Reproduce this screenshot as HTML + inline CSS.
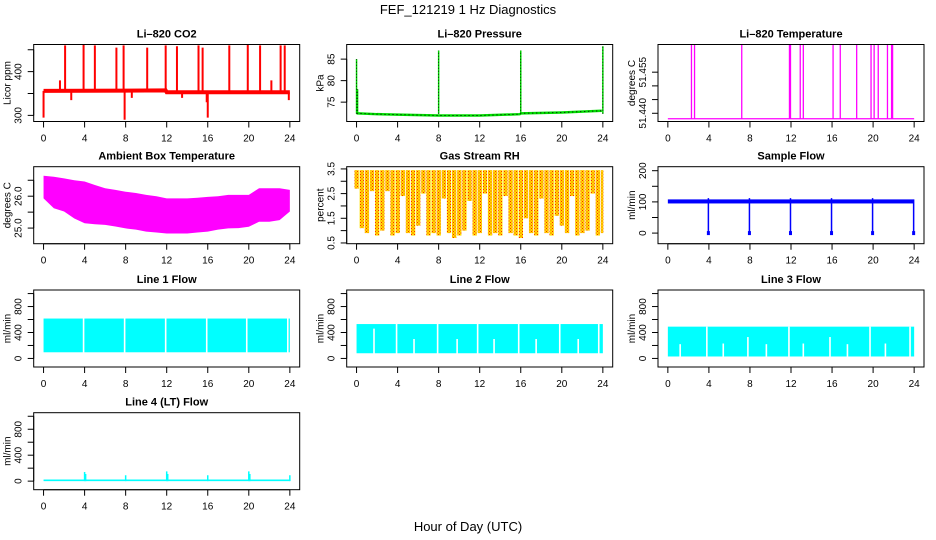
<!DOCTYPE html>
<html><head><meta charset="utf-8"><style>
body{margin:0;background:#fff;}
svg{display:block;font-family:"Liberation Sans",Arial,sans-serif;}
</style></head><body>
<svg id="chart" width="936" height="540" viewBox="0 0 936 540" xmlns="http://www.w3.org/2000/svg">
<defs>
<pattern id="rhpat" width="3" height="3" patternUnits="userSpaceOnUse"><rect width="3" height="3" fill="#ffe000"/><rect width="1" height="1" fill="#ff2000"/><rect x="1.5" y="1.5" width="1" height="1" fill="#ff2000"/></pattern>
</defs>
<text x="468" y="14" font-size="13" text-anchor="middle">FEF_121219  1 Hz Diagnostics</text>
<text x="468" y="531" font-size="13" text-anchor="middle">Hour of Day (UTC)</text>
</svg>
<script>
const xTicks=[0,4,8,12,16,20,24];
// CO2
const co2BaseHours=[0,11.9,12,24];
const co2BaseVals=[356,357,353,353];
const co2SpikeHours=[0,1.6,2.1,2.7,3.9,5.0,7.1,7.8,7.9,8.6,10.1,11.9,13.0,13.5,15.1,15.5,15.9,16.0,18.1,19.9,21.1,22.2,23.1,23.5,23.9];
const co2SpikeVals=[295,380,460,335,462,460,455,460,290,340,455,460,458,340,460,455,330,295,460,462,460,380,460,460,335];
// Pressure
const presBaseHours=[0,0.15,2,4,8,8.05,12,15.9,16.05,20,23.9];
const presBaseVals=[72.4,72.4,72.2,72.1,71.9,71.9,71.9,72.2,72.4,72.6,73];
const presSpikeHours=[0,0.1,8,16,24];
const presSpikeVals=[85,78,87,87,88];
// Li-820 temp
const tempBase=51.438;
const tempSpikeHours=[2.3,2.6,7.2,11.85,11.95,12.9,13.2,16.1,16.8,18.4,19.8,20.1,20.5,21.4,21.8,21.9];
const tempSpikeVals=[51.47,51.47,51.47,51.47,51.47,51.47,51.47,51.47,51.47,51.47,51.47,51.47,51.47,51.47,51.47,51.47];
// Ambient
const ambHours=[0,1,2,3,4,5,6,7,8,9,10,11,12,13,14,15,16,17,18,19,20,21,22,23,24];
const ambHigh=[26.64,26.61,26.56,26.5,26.46,26.35,26.25,26.2,26.14,26.1,26.04,26.0,25.93,25.93,25.93,25.95,25.98,26.0,26.04,26.04,26.04,26.25,26.25,26.25,26.2];
const ambLow=[25.93,25.62,25.52,25.3,25.15,25.12,25.1,25.05,24.99,24.95,24.89,24.86,24.83,24.83,24.83,24.86,24.89,24.95,24.99,25.0,25.04,25.2,25.2,25.25,25.52];
// RH
const rhHigh=3.45;
const rhLow=[2.7,1.1,0.9,2.6,0.8,1.0,2.6,0.8,0.9,2.4,0.9,0.8,1.2,2.5,0.8,0.9,0.8,2.3,0.9,0.7,0.8,1.0,2.2,0.8,0.9,2.5,0.8,0.9,0.8,2.4,0.9,0.8,0.7,1.5,0.9,0.8,2.3,0.9,0.8,1.6,1.2,0.9,2.4,0.8,0.9,1.0,2.5,0.8,0.9];
// Sample flow
const sfLow=95, sfHigh=108;
const sfDropHours=[3.95,7.95,11.95,15.95,19.95,23.95];
const sfDropVals=[-5,-3,-3,-5,-3,-3];
const sfSpikeVals=[112,112,112,112,112,108];
// Line flows
const l1Low=95, l1High=615;
const l1GapHours=[3.9,7.9,11.9,15.9,19.8,23.8];
const l1GapVals=[615,615,615,615,615,615];
const l2Low=80, l2High=530;
const l2GapHours=[1.7,3.9,5.6,7.9,9.8,11.8,13.4,15.8,17.5,19.8,21.6,23.6];
const l2GapVals=[460,530,300,530,300,530,300,530,300,530,300,530];
const l3Low=30, l3High=490;
const l3GapHours=[1.2,3.8,5.4,7.8,9.6,11.8,13.2,15.8,17.5,19.7,21.2,23.6];
const l3GapVals=[220,490,230,330,220,490,230,330,220,490,230,490];
const l4Base=15;
const l4SpikeHours=[4,4.1,8,12,12.1,16,20,20.1,24];
const l4SpikeVals=[140,110,90,150,110,90,150,110,90];

const svg=document.getElementById('chart');
const NS='http://www.w3.org/2000/svg';
function mk(tag,attrs,parent){const e=document.createElementNS(NS,tag);for(const k in attrs)e.setAttribute(k,attrs[k]);(parent||svg).appendChild(e);return e;}
const colL=[33.7,346.7,658], rowT=[44.5,166.7,290,412.7], W=266, H=77;
let pid=0;
function panel(col,row,key,title,ylab,ymin,ymax,ticks,labels){
  const L=colL[col],T=rowT[row],B=T+H,R=L+W;
  const g=mk('g',{});
  
  
  const x=h=>L+W*(h+0.96)/25.92;
  const y=v=>B-(v-ymin)/(ymax-ymin)*H;
  pid++;
  const cp=mk('clipPath',{id:'cp'+pid},g);
  mk('rect',{x:L,y:T,width:W,height:H},cp);
  const plot=mk('g',{'clip-path':'url(#cp'+pid+')'},g);
  
  
  const box=mk('rect',{x:L,y:T,width:W,height:H,fill:'none',stroke:'#000','stroke-width':1},g);
  
  
  const t=mk('text',{x:L+W/2,y:T-7,'font-size':11,'font-weight':'bold','text-anchor':'middle'},g);
  t.textContent=title;
  
  
  const yt=mk('text',{x:L-23,y:(T+B)/2,'font-size':10,'text-anchor':'middle',transform:`rotate(-90 ${L-23} ${(T+B)/2})`},g);
  yt.textContent=ylab;
  
  
  mk('line',{x1:x(0),x2:x(24),y1:B,y2:B,stroke:'#000'},g);
  xTicks.forEach(h=>{
    mk('line',{x1:x(h),x2:x(h),y1:B,y2:B+6,stroke:'#000'},g);
    const tl=mk('text',{x:x(h),y:B+20,'font-size':10,'text-anchor':'middle'},g);
    tl.textContent=h;
    
    
  });
  mk('line',{x1:L,x2:L,y1:y(ticks[0]),y2:y(ticks[ticks.length-1]),stroke:'#000'},g);
  ticks.forEach((v,i)=>{
    mk('line',{x1:L-6,x2:L,y1:y(v),y2:y(v),stroke:'#000'},g);
    if(labels[i]){
      const tl=mk('text',{x:L-12,y:y(v),'font-size':10,'text-anchor':'middle',transform:`rotate(-90 ${L-12} ${y(v)})`},g);
      tl.textContent=labels[i];
      
      
    }
  });
  return {g:plot,x,y};
}
function vline(p,h,v1,v2,col,w){return mk('line',{x1:p.x(h),x2:p.x(h),y1:p.y(v1),y2:p.y(v2),stroke:col,'stroke-width':w||1.3},p.g);}
function band(p,h1,h2,lo,hi,col){return mk('rect',{x:p.x(h1),y:p.y(hi),width:p.x(h2)-p.x(h1),height:p.y(lo)-p.y(hi),fill:col},p.g);}

// CO2
let p=panel(0,0,'co2','Li\u2013820 CO2','Licor ppm',286,462,[300,350,400,450],['300','','400','']);
let pts=co2BaseHours.map((h,i)=>p.x(h)+','+p.y(co2BaseVals[i])).join(' ');
let e=mk('polyline',{points:pts,fill:'none',stroke:'#ff0000','stroke-width':4},p.g);

co2SpikeHours.forEach((h,i)=>{const s=vline(p,h,h<12?356:353,co2SpikeVals[i],'#ff0000',2);
});

// Pressure
p=panel(1,0,'pressure','Li\u2013820 Pressure','kPa',70.5,88.4,[75,80,85],['75','80','85']);
pts=presBaseHours.map((h,i)=>p.x(h)+','+p.y(presBaseVals[i])).join(' ');
e=mk('polyline',{points:pts,fill:'none',stroke:'#00dd00','stroke-width':2.5},p.g);

mk('polyline',{points:pts,fill:'none',stroke:'#000','stroke-width':1,'stroke-dasharray':'1 3'},p.g);
presSpikeHours.forEach((h,i)=>{const s=vline(p,h,72.3,presSpikeVals[i],'#00dd00',1.5);

mk('line',{x1:p.x(h),x2:p.x(h),y1:p.y(72.3),y2:p.y(presSpikeVals[i]),stroke:'#000','stroke-width':0.8,'stroke-dasharray':'1 2'},p.g);});

// Li-820 temp
p=panel(2,0,'li820-temp','Li\u2013820 Temperature','degrees C',51.437,51.4651,[51.440,51.445,51.450,51.455],['51.440','','','51.455']);
e=mk('line',{x1:p.x(0),x2:p.x(24),y1:p.y(tempBase),y2:p.y(tempBase),stroke:'#ff00ff','stroke-width':1.3},p.g);

tempSpikeHours.forEach((h,i)=>{const s=vline(p,h,tempBase,tempSpikeVals[i],'#ff00ff',1.3);
});

// Ambient
p=panel(0,1,'ambient-temp','Ambient Box Temperature','degrees C',24.51,26.925,[25,25.5,26,26.5],['25.0','','26.0','']);
pts=ambHours.map((h,i)=>p.x(h)+','+p.y(ambHigh[i])).concat(ambHours.slice().reverse().map((h,j)=>p.x(h)+','+p.y(ambLow[ambHours.length-1-j]))).join(' ');
e=mk('polygon',{points:pts,fill:'#ff00ff'},p.g);


// RH
p=panel(1,1,'gas-rh','Gas Stream RH','percent',0.47,3.59,[0.5,1,1.5,2,2.5,3,3.5],['0.5','','1.5','','2.5','','3.5']);
rhLow.forEach((v,i)=>{const h=i*0.5;const r=band(p,h-0.2,Math.min(h+0.22,24.05),v,rhHigh,'url(#rhpat)');
});

// Sample flow
p=panel(2,1,'sample-flow','Sample Flow','ml/min',-34,212.8,[0,50,100,150,200],['0','','100','','200']);
e=band(p,0,23.9,sfLow,sfHigh,'#0000ff');

sfDropHours.forEach((h,i)=>{const s=vline(p,h,sfDropVals[i],sfSpikeVals[i],'#0000ff',1.5);

mk('rect',{x:p.x(h)-1.5,y:p.y(0)-2,width:3,height:4,fill:'#0000ff'},p.g);});

function flowPanel(col,row,key,title,lo,hi,gh,gv,endH){
  const q=panel(col,row,key,title,'ml/min',-132,1055,[0,200,400,600,800,1000],['0','','400','','800','']);
  const b=band(q,0,endH,lo,hi,'#00ffff');
  
  gh.forEach((h,i)=>{const s=vline(q,h,lo-10,gv[i],'#ffffff',1.6);
  });
  return q;
}
flowPanel(0,2,'line1-flow','Line 1 Flow',l1Low,l1High,l1GapHours,l1GapVals,24);
flowPanel(1,2,'line2-flow','Line 2 Flow',l2Low,l2High,l2GapHours,l2GapVals,24);
flowPanel(2,2,'line3-flow','Line 3 Flow',l3Low,l3High,l3GapHours,l3GapVals,24);

p=panel(0,3,'line4-flow','Line 4 (LT) Flow','ml/min',-132,1055,[0,200,400,600,800,1000],['0','','400','','800','']);
e=band(p,0,24,0,l4Base+10,'#00ffff');

l4SpikeHours.forEach((h,i)=>{const s=vline(p,h,0,l4SpikeVals[i],'#00ffff',1.5);
});
</script>
</body></html>
